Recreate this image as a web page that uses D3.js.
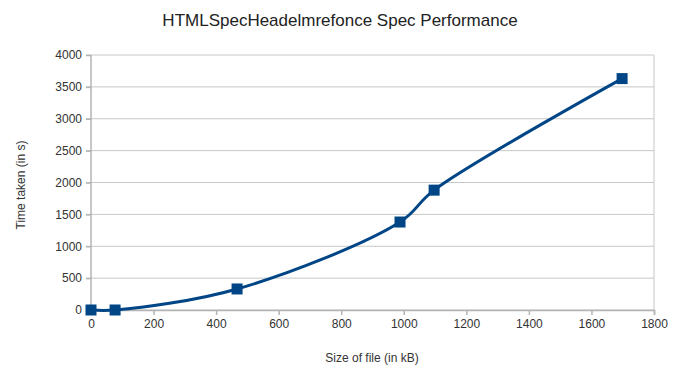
<!DOCTYPE html>
<html>
<head>
<meta charset="utf-8">
<script src="https://cdn.jsdelivr.net/npm/d3@7"></script>
<style>
  body { margin: 0; background: #fff; }
  svg text { font-family: "Liberation Sans", Arial, sans-serif; fill: #333; }
</style>
</head>
<body>
<div id="chart"></div>
<script>
// file size (kB) vs time taken (s)
const sizes = [0, 77, 467, 988, 1097, 1698];
const times = [0, 0, 330, 1380, 1880, 3630];
const xTicks = [0, 200, 400, 600, 800, 1000, 1200, 1400, 1600, 1800];
const yTicks = [0, 500, 1000, 1500, 2000, 2500, 3000, 3500, 4000];

const width = 681, height = 369;
const margin = { top: 55, right: 27, bottom: 59, left: 91 };

const svg = d3.select("#chart").append("svg")
  .attr("width", width)
  .attr("height", height);

const x = d3.scaleLinear().domain([0, 1800]).range([margin.left, width - margin.right]);
const y = d3.scaleLinear().domain([0, 4000]).range([height - margin.bottom, margin.top]);

// grid
svg.append("g")
  .selectAll("line")
  .data(yTicks)
  .join("line")
  .attr("x1", x(0) - 5)
  .attr("x2", x(1800))
  .attr("y1", d => y(d))
  .attr("y2", d => y(d))
  .attr("stroke", "#c8c8c8")
  .attr("stroke-width", 1);

svg.append("line")
  .attr("x1", x(1800)).attr("x2", x(1800))
  .attr("y1", y(4000)).attr("y2", y(0))
  .attr("stroke", "#c8c8c8");

// axes
const xAxis = svg.append("g")
  .attr("transform", `translate(0,${y(0)})`)
  .call(d3.axisBottom(x).tickValues(xTicks).tickSize(5).tickPadding(4).tickFormat(d3.format("d")));
const yAxis = svg.append("g")
  .attr("transform", `translate(${x(0)},0)`)
  .call(d3.axisLeft(y).tickValues(yTicks).tickSize(5).tickPadding(4).tickFormat(d3.format("d")));

[xAxis, yAxis].forEach(a => {
  a.select(".domain").attr("stroke", "#b3b3b3").attr("stroke-width", 1.5);
  a.selectAll(".tick line").attr("stroke", "#b3b3b3").attr("stroke-width", 1.5);
  a.selectAll(".tick text").style("font-size", "12px").style("fill", "#333")
    .style("font-family", "'Liberation Sans', Arial, sans-serif");
});
yAxis.select(".domain").attr("d", `M0,${y(4000)}V${y(0) + 5}`);

// line
const pts = sizes.map((s, i) => [s, times[i]]);
svg.append("path")
  .datum(pts)
  .attr("fill", "none")
  .attr("stroke", "#004586")
  .attr("stroke-width", 3)
  .attr("d", d3.line().x(d => x(d[0])).y(d => y(d[1])).curve(d3.curveCatmullRom.alpha(0.5)));

svg.append("g")
  .selectAll("rect")
  .data(pts)
  .join("rect")
  .attr("x", d => x(d[0]) - 5.5)
  .attr("y", d => y(d[1]) - 5.5)
  .attr("width", 11)
  .attr("height", 11)
  .attr("fill", "#004586");

// titles
svg.append("text")
  .attr("x", 340).attr("y", 26)
  .attr("text-anchor", "middle")
  .style("font-size", "17px")
  .style("fill", "#222")
  .text("HTMLSpecHeadelmrefonce Spec Performance");

svg.append("text")
  .attr("x", 372).attr("y", 362)
  .attr("text-anchor", "middle")
  .style("font-size", "12px")
  .text("Size of file (in kB)");

svg.append("text")
  .attr("transform", "translate(25,185) rotate(-90)")
  .attr("text-anchor", "middle")
  .style("font-size", "12px")
  .text("Time taken (in s)");
</script>
</body>
</html>
